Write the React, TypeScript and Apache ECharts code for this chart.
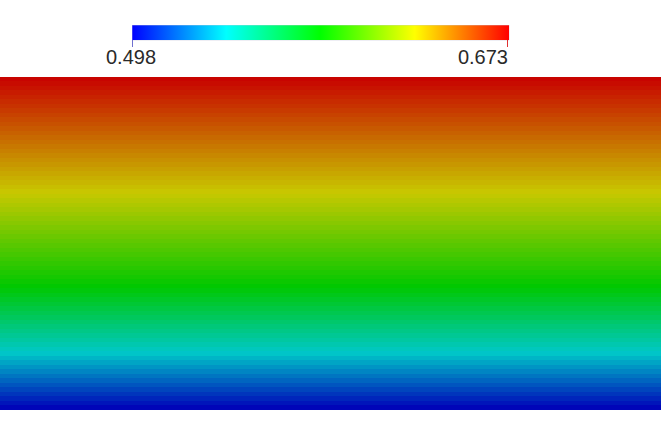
import React, { useEffect, useRef } from "react";
import * as echarts from "echarts";

// Field value per horizontal band, from top (row 0) to bottom (row 73)
const rowValues: number[] = [
  0.6722, 0.6705, 0.6688, 0.6671, 0.6654, 0.6637, 0.662, 0.6603, 0.6586, 0.6569,
  0.6552, 0.6535, 0.6518, 0.6501, 0.6484, 0.6467, 0.645, 0.6433, 0.6416, 0.6399,
  0.6382, 0.6365, 0.6348, 0.6331, 0.6314, 0.6297, 0.6277, 0.6256, 0.6236, 0.6215,
  0.6194, 0.6173, 0.6152, 0.6131, 0.611, 0.6089, 0.6068, 0.6047, 0.6026, 0.6005,
  0.5984, 0.5963, 0.5942, 0.5921, 0.59, 0.5879, 0.5858, 0.583, 0.58, 0.577,
  0.5741, 0.5711, 0.5681, 0.5651, 0.5621, 0.5591, 0.5562, 0.5532, 0.5502, 0.5472,
  0.5442, 0.5412, 0.5376, 0.5341, 0.5306, 0.5271, 0.5236, 0.5201, 0.5166, 0.513,
  0.5095, 0.506, 0.5025, 0.499,
];
const columns: string[] = ["c0"];
const rangeMin = 0.498;
const rangeMax = 0.673;
const tickLabels: string[] = ["0.498", "0.673"];
const barColors: string[] = ["#0000ff", "#00ffff", "#00ff00", "#ffff00", "#ff0000"];
const fieldColors: string[] = ["#0000b8", "#00c8c8", "#00c800", "#c8c800", "#c80000"];

export default function App() {
  const ref = useRef<HTMLDivElement>(null);
  useEffect(() => {
    document.body.style.margin = "0";
    if (!ref.current) return;
    const chart = echarts.init(ref.current, undefined, { renderer: "svg" });
    const rows = rowValues.map((_, i) => "r" + i);
    const data: number[][] = [];
    rowValues.forEach((v, i) => {
      columns.forEach((_, j) => data.push([j, i, v]));
    });
    const barLeft = 132;
    const barRight = 509;
    const barTop = 25;
    const barH = 15;
    chart.setOption({
      animation: false,
      grid: { left: 0, right: 0, top: 77, bottom: 13 },
      xAxis: { type: "category", data: columns, show: false },
      yAxis: { type: "category", data: rows, inverse: true, show: false },
      visualMap: {
        type: "continuous",
        show: false,
        min: rangeMin,
        max: rangeMax,
        seriesIndex: 0,
        inRange: { color: fieldColors },
      },
      series: [
        {
          type: "heatmap",
          data,
          itemStyle: { borderWidth: 0 },
          emphasis: { disabled: true },
          progressive: 0,
        },
      ],
      graphic: [
        {
          type: "rect",
          shape: { x: barLeft, y: barTop, width: barRight - barLeft, height: barH },
          style: {
            fill: {
              type: "linear",
              x: 0,
              y: 0,
              x2: 1,
              y2: 0,
              colorStops: barColors.map((c, i) => ({ offset: i / (barColors.length - 1), color: c })),
            },
            stroke: "rgba(200,200,220,0.6)",
            lineWidth: 0.5,
          },
        },
        {
          type: "line",
          shape: { x1: barLeft + 0.5, y1: barTop + barH, x2: barLeft + 0.5, y2: 47 },
          style: { stroke: "#7070d0", lineWidth: 1 },
        },
        {
          type: "line",
          shape: { x1: barRight - 1.5, y1: barTop + barH, x2: barRight - 1.5, y2: 47 },
          style: { stroke: "#e03030", lineWidth: 1 },
        },
        {
          type: "text",
          x: barLeft - 1,
          y: 57,
          style: {
            text: tickLabels[0],
            fill: "#2a2a2a",
            font: "20px 'Liberation Sans', Arial, sans-serif",
            textAlign: "center",
            textVerticalAlign: "middle",
          },
        },
        {
          type: "text",
          x: barRight - 1,
          y: 57,
          style: {
            text: tickLabels[1],
            fill: "#2a2a2a",
            font: "20px 'Liberation Sans', Arial, sans-serif",
            textAlign: "right",
            textVerticalAlign: "middle",
          },
        },
      ],
    });
    return () => chart.dispose();
  }, []);
  return (
    <>
      <style>{".field-chart svg path { shape-rendering: crispEdges; }"}</style>
      <div className="field-chart" ref={ref} style={{ width: 661, height: 423 }} />
    </>
  );
}
